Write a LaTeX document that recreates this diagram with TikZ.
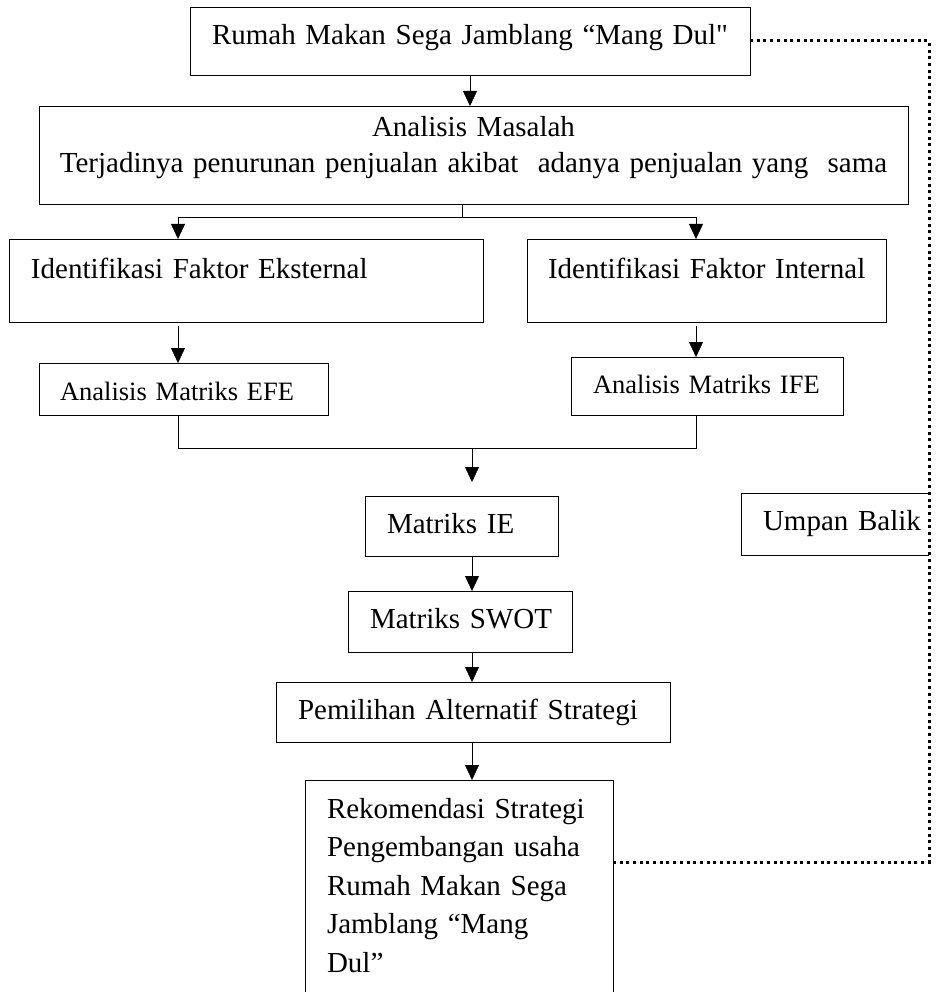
\documentclass[tikz,border=0pt]{standalone}
\usepackage{fontspec}
\setmainfont{Liberation Serif}
\newfontfamily\rawserif{Liberation Serif}
\usetikzlibrary{calc, arrows.meta}
\newcommand{\mainsize}{\rawserif\fontsize{29}{36}\selectfont}
\newcommand{\efesize}{\rawserif\fontsize{26.5}{32}\selectfont}
\tikzset{
	line width = 1.8pt,
	>={Triangle[width=14pt, length=15pt]},
	font = \mainsize,
	box/.style={
		draw,
		anchor=north west,
		align=left,
		inner ysep=0pt,
		outer sep=0pt
	},
	boxsize/.style n args={4}{
		text width=#1pt,
		inner xsep=0pt,
		execute at begin node={\leftskip=#2pt\relax},
		text height=#3pt,
		text depth=#4pt
	},
	edge/.style={
		->
	},
	feedback/.style={
		line width=3pt,
		dash pattern=on 3pt off 3.7pt
	}
}

\begin{document}
\begin{tikzpicture}[x=1pt, y=-1pt]
\useasboundingbox (0,0) rectangle (936,992);
\clip (0,0) rectangle (936,992);

\node[box, boxsize={560}{22}{38}{30}] (rumah) at (190,7) {Rumah Makan Sega Jamblang “Mang Dul"};
\node[box, align=center, text width=859pt, inner xsep=5pt, text height=31pt, text depth=67pt] (analisis) at (39,106) {Analisis Masalah\\ Terjadinya penurunan penjualan akibat\ \ adanya penjualan yang\ \ sama\hspace*{24pt}};
\node[box, boxsize={474}{22}{39}{44}] (ekst) at (9,239) {Identifikasi Faktor Eksternal};
\node[box, boxsize={359}{21}{39}{44}] (intern) at (527,239) {Identifikasi Faktor Internal};
\node[box, font=\efesize, boxsize={289}{21}{37}{15}] (efe) at (39,363) {Analisis Matriks EFE};
\node[box, font=\efesize, boxsize={272}{22}{36}{22}] (ife) at (571,357) {Analisis Matriks IFE};
\node[box, boxsize={193}{22}{37}{23}] (ie) at (365,496) {Matriks IE};
\node[box, boxsize={224}{22}{37}{24}] (swot) at (348,591) {Matriks SWOT};
\node[box, boxsize={394}{22}{37}{23}] (pilih) at (276,682) {Pemilihan Alternatif Strategi};
\node[box, font=\rawserif\fontsize{29}{38.5}\selectfont, boxsize={308}{22}{38}{182}] (rekom) at (305,780) {Rekomendasi Strategi\\ Pengembangan usaha\\ Rumah Makan Sega\\ Jamblang “Mang\\ Dul”};
\node[box, draw=none, boxsize={188}{22}{37}{25}] (umpan) at (741,493) {Umpan Balik};
\draw (umpan.north east) -- (umpan.north west) -- (umpan.south west) -- (umpan.south east);

% split and join points
\coordinate (split) at (462,217);
\coordinate (splitL) at (178,217);
\coordinate (splitR) at (696,217);
\coordinate (join) at (472,448);

\draw[edge] (rumah.south) -- (rumah.south |- analisis.north);
\draw (split |- analisis.south) -- (split);
\draw[edge] (split) -| (splitL |- ekst.north);
\draw[edge] (split) -| (splitR |- intern.north);
\draw[edge, shorten <=4pt] (splitL |- ekst.south) -- (splitL |- efe.north);
\draw[edge, shorten <=4pt] (splitR |- intern.south) -- (splitR |- ife.north);
\draw (splitL |- efe.south) -- (splitL |- join) -- (splitR |- join) -- (splitR |- ife.south);
\draw[edge, shorten >=14pt] (join) -- (join |- ie.north);
\draw[edge] (join |- ie.south) -- (join |- swot.north);
\draw[edge] (join |- swot.south) -- (join |- pilih.north);
\draw[edge] (join |- pilih.south) -- (join |- rekom.north);

% feedback loop
\coordinate (fbtop) at (929,41);
\coordinate (fbbot) at (929,862);
\draw[feedback] (rumah.east) -- (fbtop) -- (fbbot) -- (fbbot -| rekom.east);
\end{tikzpicture}
\end{document}
